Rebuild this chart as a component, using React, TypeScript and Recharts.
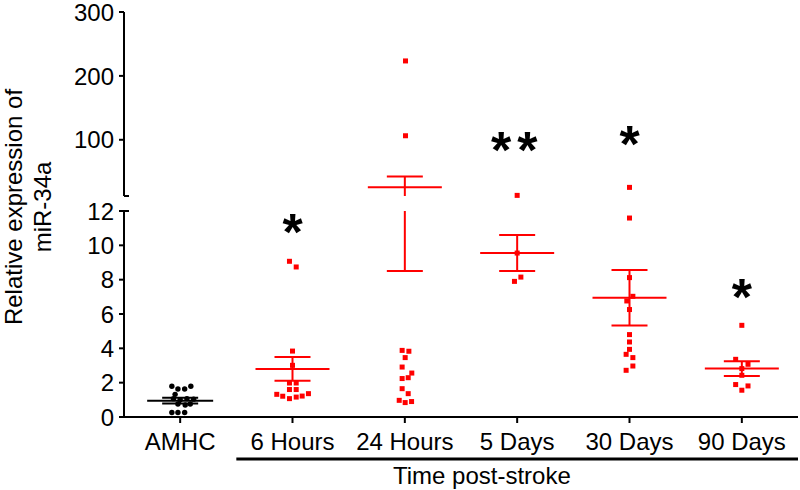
import React from 'react';
import { ScatterChart, Scatter, XAxis, YAxis, ErrorBar } from 'recharts';

const groups = ['AMHC', '6 Hours', '24 Hours', '5 Days', '30 Days', '90 Days'];

// [jitter inside the column, relative expression]
const amhc = [
  [-0.074, 1.79], [-0.02, 1.63], [0.04, 1.63], [0.095, 1.79],
  [-0.045, 1.32], [-0.06, 1.07], [0, 1.01], [0.06, 1.07], [0.12, 1.04],
  [-0.02, 0.76], [0.045, 0.7], [0.09, 0.76],
  [-0.074, 0.26], [-0.02, 0.26], [0.04, 0.26],
];
const hours6 = [
  [-0.027, 9.07], [0.033, 8.74], [0, 3.84], [0, 3.01],
  [-0.027, 1.98], [0.033, 1.98], [-0.027, 1.6], [0.033, 1.6],
  [-0.14, 1.32], [-0.087, 1.21], [-0.027, 1.07], [0.033, 1.16], [0.086, 1.22], [0.142, 1.36],
];
const hours24 = [
  [0.006, 223.4], [0.006, 106.3],
  [-0.024, 3.88], [0.036, 3.83], [0.003, 3.46], [-0.024, 2.91], [0.062, 2.56], [0.03, 2.29],
  [-0.024, 2.24], [-0.024, 1.65], [0.03, 1.36], [-0.05, 0.97], [0.003, 0.84], [0.06, 0.9],
];
const days5 = [[0, 12.97], [0, 9.55], [0.033, 8.15], [-0.024, 7.9]];
const days30 = [
  [0, 25.5], [0, 11.59], [0, 8.12], [0.03, 7.03], [-0.024, 6.76], [0, 6.26], [0, 4.8],
  [0, 4.37], [0, 3.94], [-0.03, 3.65], [0.03, 3.46], [0.03, 2.97], [-0.03, 2.72],
];
const days90 = [
  [0, 5.34], [-0.055, 3.36], [0.055, 3.07], [0, 2.82], [0, 2.43], [-0.055, 1.89], [0.055, 1.81], [0, 1.56],
];

const meanValues = [0.95, 2.8, 25.6, 9.55, 6.95, 2.82];
const semValues = [0.17, 0.69, 17.1, 1.05, 1.62, 0.43];

const upperTicks = [12, 100, 200, 300];
const lowerTicks = [0, 2, 4, 6, 8, 10, 12];
const groupTicks = [0, 1, 2, 3, 4, 5];

const stars = [
  { x: 1, y: 11.2, text: '*' },
  { x: 3, y: 95.3, text: '**' },
  { x: 4, y: 104.7, text: '*' },
  { x: 5, y: 7.4, text: '*' },
];

const BREAK = 12;
const RED = '#ff0000';
const FONT = '"Liberation Sans", Arial, sans-serif';

// plot boxes of the two axis segments (px)
const PLOT_LEFT = 124;
const PLOT_RIGHT = 2;
const UPPER_TOP = 12;
const UPPER_BOTTOM = 196;
const LOWER_TOP = 211;
const LOWER_BOTTOM = 417;
const Y_W = 60;
const X_H = 30;

const toPoints = (rows: number[][], group: number) => rows.map(([dx, v]) => ({ x: group + dx, y: v }));

const control = toPoints(amhc, 0);
const treated = [hours6, hours24, days5, days30, days90].flatMap((rows, i) => toPoints(rows, i + 1));
const means = meanValues.map((m, i) => ({ x: i, y: m, sem: semValues[i] }));

const above = (p: { y: number }) => p.y > BREAK;
const below = (p: { y: number }) => p.y <= BREAK;

const square = (p: any) => <rect x={p.cx - 2.5} y={p.cy - 2.5} width={5} height={5} fill={RED} />;
const dot = (p: any) => <circle cx={p.cx} cy={p.cy} r={2.7} fill="#000" />;
const meanBar = (half: number, color: string) => (p: any) => (
  <line x1={p.cx - half} x2={p.cx + half} y1={p.cy} y2={p.cy} stroke={color} strokeWidth={2} />
);
const star = (p: any) => (
  <text
    x={p.cx}
    y={p.cy + 25}
    textAnchor="middle"
    fontSize={52}
    fontWeight="bold"
    letterSpacing={p.payload.text.length > 1 ? 6 : 0}
    fill="#000"
  >
    {p.payload.text}
  </text>
);

const yTick = (segment: 'upper' | 'lower') => (p: any) => {
  const v = p.payload.value;
  const ax = p.x + 10;
  const y = p.y;
  if (segment === 'upper' && v === BREAK) {
    return <line x1={ax} x2={ax + 5} y1={y} y2={y} stroke="#000" strokeWidth={2} />;
  }
  return (
    <g>
      <line x1={ax - 5} x2={v === BREAK ? ax + 5 : ax} y1={y} y2={y} stroke="#000" strokeWidth={2} />
      <text x={ax - 10} y={y} dy="0.36em" textAnchor="end" fontSize={24} fill="#000">
        {v}
      </text>
    </g>
  );
};

const TimeLabel = (props: any) => {
  const { x, y, width } = props.viewBox;
  return (
    <g>
      <line x1={x + width / 6} x2={x + width} y1={y + 42} y2={y + 42} stroke="#000" strokeWidth={3} />
      <text x={x + width * 0.531} y={y + 67} textAnchor="middle" fontSize={24} fill="#000">
        Time post-stroke
      </text>
    </g>
  );
};

const axisStroke = { stroke: '#000', strokeWidth: 2 };
const layer: React.CSSProperties = { position: 'absolute', left: 0, top: 0 };

type SegmentProps = {
  plotTop: number;
  plotBottom: number;
  clipTop: number;
  clipBottom: number;
  domain: [number, number];
};

// mean +/- SEM of one axis segment, cut off at that segment's edge
const MeanSegment = ({ plotTop, plotBottom, clipTop, clipBottom, domain }: SegmentProps) => (
  <div style={{ position: 'absolute', left: 0, top: clipTop, width: 800, height: clipBottom - clipTop, overflow: 'hidden' }}>
    <div style={{ position: 'absolute', left: 0, top: -clipTop }}>
      <ScatterChart
        width={800}
        height={490}
        margin={{ top: plotTop, right: PLOT_RIGHT, bottom: 490 - plotBottom, left: PLOT_LEFT }}
      >
        <XAxis type="number" dataKey="x" domain={[-0.5, 5.5]} allowDataOverflow hide />
        <YAxis type="number" dataKey="y" domain={domain} allowDataOverflow hide />
        <Scatter data={means.slice(0, 1)} shape={meanBar(33, '#000')} isAnimationActive={false}>
          <ErrorBar dataKey="sem" direction="y" width={18} stroke="#000" strokeWidth={2} isAnimationActive={false} />
        </Scatter>
        <Scatter data={means.slice(1)} shape={meanBar(37, RED)} isAnimationActive={false}>
          <ErrorBar dataKey="sem" direction="y" width={18} stroke={RED} strokeWidth={2} isAnimationActive={false} />
        </Scatter>
      </ScatterChart>
    </div>
  </div>
);

export default function App() {
  return (
    <div style={{ position: 'absolute', left: 0, top: 0, width: 800, height: 490, fontFamily: FONT, background: '#fff' }}>
      {/* lower segment, 0-12 */}
      <div style={layer}>
        <ScatterChart
          width={800}
          height={490}
          margin={{ top: LOWER_TOP, right: PLOT_RIGHT, bottom: 490 - LOWER_BOTTOM - X_H, left: PLOT_LEFT - Y_W }}
        >
          <XAxis
            type="number"
            dataKey="x"
            domain={[-0.5, 5.5]}
            ticks={groupTicks}
            interval={0}
            tickFormatter={(i: number) => groups[i]}
            height={X_H}
            axisLine={axisStroke}
            tickLine={axisStroke}
            tickSize={6}
            tickMargin={10}
            tick={{ fontSize: 24, fill: '#000' }}
            label={<TimeLabel />}
          />
          <YAxis
            type="number"
            dataKey="y"
            domain={[0, BREAK]}
            ticks={lowerTicks}
            interval={0}
            width={Y_W}
            axisLine={axisStroke}
            tickLine={false}
            tickSize={5}
            tickMargin={5}
            tick={yTick('lower')}
          />
          <Scatter data={control.filter(below)} shape={dot} isAnimationActive={false} />
          <Scatter data={treated.filter(below)} shape={square} isAnimationActive={false} />
          <Scatter data={stars.filter(below)} shape={star} isAnimationActive={false} />
        </ScatterChart>
      </div>

      {/* upper segment, 12-300 */}
      <div style={layer}>
        <ScatterChart
          width={800}
          height={490}
          margin={{ top: UPPER_TOP, right: PLOT_RIGHT, bottom: 490 - UPPER_BOTTOM, left: PLOT_LEFT - Y_W }}
        >
          <XAxis type="number" dataKey="x" domain={[-0.5, 5.5]} hide />
          <YAxis
            type="number"
            dataKey="y"
            domain={[BREAK, 300]}
            ticks={upperTicks}
            interval={0}
            width={Y_W}
            axisLine={axisStroke}
            tickLine={false}
            tickSize={5}
            tickMargin={5}
            tick={yTick('upper')}
          />
          <Scatter data={treated.filter(above)} shape={square} isAnimationActive={false} />
          <Scatter data={stars.filter(above)} shape={star} isAnimationActive={false} />
        </ScatterChart>
      </div>

      <MeanSegment plotTop={LOWER_TOP} plotBottom={LOWER_BOTTOM} clipTop={LOWER_TOP} clipBottom={490} domain={[0, BREAK]} />
      <MeanSegment plotTop={UPPER_TOP} plotBottom={UPPER_BOTTOM} clipTop={0} clipBottom={UPPER_BOTTOM} domain={[BREAK, 300]} />

      <svg width={800} height={490} style={layer}>
        <text transform="translate(22,207) rotate(-90)" textAnchor="middle" fontSize={24} fill="#000">
          Relative expression of
        </text>
        <text transform="translate(51,207) rotate(-90)" textAnchor="middle" fontSize={24} fill="#000">
          miR-34a
        </text>
      </svg>
    </div>
  );
}
